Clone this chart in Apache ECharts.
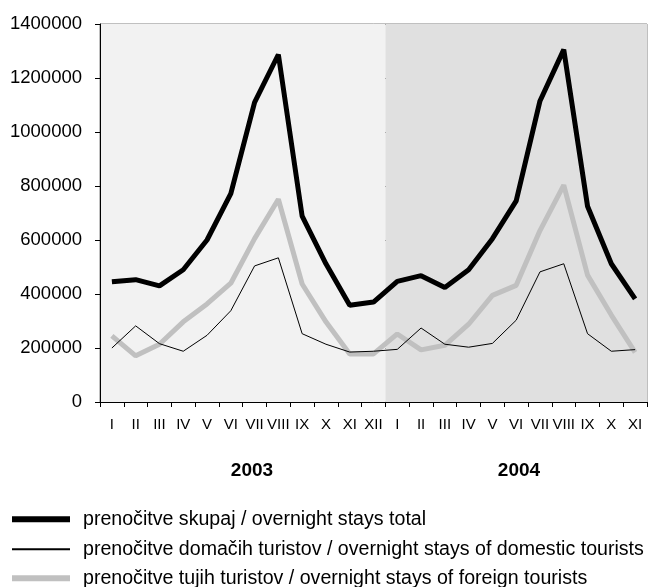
<!DOCTYPE html>
<html>
<head>
<meta charset="utf-8">
<script src="https://cdn.jsdelivr.net/npm/echarts@6/dist/echarts.min.js"></script>
<style>
html,body{margin:0;padding:0;background:#fff;}
#c{width:648px;height:587px;}
</style>
</head>
<body>
<div id="c"></div>
<script>
var months = ['I','II','III','IV','V','VI','VII','VIII','IX','X','XI','XII',
              'I','II','III','IV','V','VI','VII','VIII','IX','X','XI'];
var total = [445000,453000,430000,490000,600000,772000,1110000,1287000,688000,512000,358000,370000,
             447000,468000,424000,490000,605000,745000,1115000,1305000,725000,512000,382000];
var domestic = [200000,282000,216000,188000,247000,338000,504000,534000,253000,214000,185000,188000,
                195000,274000,214000,203000,217000,303000,482000,512000,253000,188000,194000];
var foreign = [245000,171000,214000,297000,363000,440000,605000,751000,437000,297000,178000,178000,
               252000,193000,210000,288000,395000,432000,635000,803000,470000,322000,184000];
var yearLabels = ['2003','2004'];
var yTicks = [0,200000,400000,600000,800000,1000000,1200000,1400000];
var seriesNames = ['prenočitve skupaj / overnight stays total',
  'prenočitve domačih turistov / overnight stays of domestic tourists',
  'prenočitve tujih turistov / overnight stays of foreign tourists'];

var chart = echarts.init(document.getElementById('c'), null, {renderer:'canvas'});
var FONT = 'Liberation Sans, Arial, sans-serif';
function legendFor(name, color, h, centerY){
  return {
    show:true, orient:'vertical', left:12, top:centerY - 9.8, padding:0,
    itemWidth:58, itemHeight:h, icon:'rect',
    textStyle:{fontSize:19.6,color:'#000',fontFamily:FONT,padding:[0,0,0,8]},
    itemStyle:{color:color},
    selectedMode:false,
    data:[{name:name}]
  };
}
var option = {
  animation:false,
  backgroundColor:'#ffffff',
  textStyle:{fontFamily:FONT},
  grid:{left:100,right:1,top:24,bottom:185,show:true,borderColor:'#808080',borderWidth:1,backgroundColor:'transparent'},
  xAxis:{
    type:'category', data:months, boundaryGap:true,
    axisLine:{show:true,lineStyle:{color:'#000',width:1}},
    axisTick:{show:true,length:5,inside:false,interval:0,lineStyle:{color:'#000'}},
    axisLabel:{interval:0,color:'#000',fontSize:15,margin:15,fontFamily:FONT},
    splitLine:{show:false},
    splitArea:{show:true,interval:11,areaStyle:{color:['#f2f2f2','#e0e0e0','#e0e0e0']}}
  },
  yAxis:{
    type:'value', min:0, max:1400000, interval:200000,
    axisLine:{show:true,lineStyle:{color:'#000',width:1}},
    axisTick:{show:true,length:5,lineStyle:{color:'#000'}},
    axisLabel:{color:'#000',fontSize:18.5,margin:18,fontFamily:FONT,
      formatter:function(v){return yTicks.indexOf(v)>=0?String(v):'';}},
    splitLine:{show:true,lineStyle:{color:'#000',width:1}}
  },
  legend:[
    legendFor(seriesNames[0],'#000',6,519),
    legendFor(seriesNames[1],'#000',2,549),
    legendFor(seriesNames[2],'#c0c0c0',6,578)
  ],
  series:[
    {name:seriesNames[1],type:'line',data:domestic,symbol:'none',lineStyle:{color:'#000',width:1},itemStyle:{color:'#000'},z:3},
    {name:seriesNames[2],type:'line',data:foreign,symbol:'none',lineStyle:{color:'#c0c0c0',width:5},itemStyle:{color:'#c0c0c0'},z:2},
    {name:seriesNames[0],type:'line',data:total,symbol:'none',lineStyle:{color:'#000',width:5},itemStyle:{color:'#000'},z:4}
  ],
  graphic:[
    {type:'text',x:575,y:383,style:{text:'© SURS',fontSize:15.5,fill:'#000',fontFamily:FONT,verticalAlign:'middle'}},
    {type:'text',x:252,y:471,style:{text:yearLabels[0],fontSize:19,fontWeight:'bold',fill:'#000',fontFamily:FONT,align:'center',verticalAlign:'middle'}},
    {type:'text',x:519,y:471,style:{text:yearLabels[1],fontSize:19,fontWeight:'bold',fill:'#000',fontFamily:FONT,align:'center',verticalAlign:'middle'}}
  ]
};
chart.setOption(option);
</script>
</body>
</html>
